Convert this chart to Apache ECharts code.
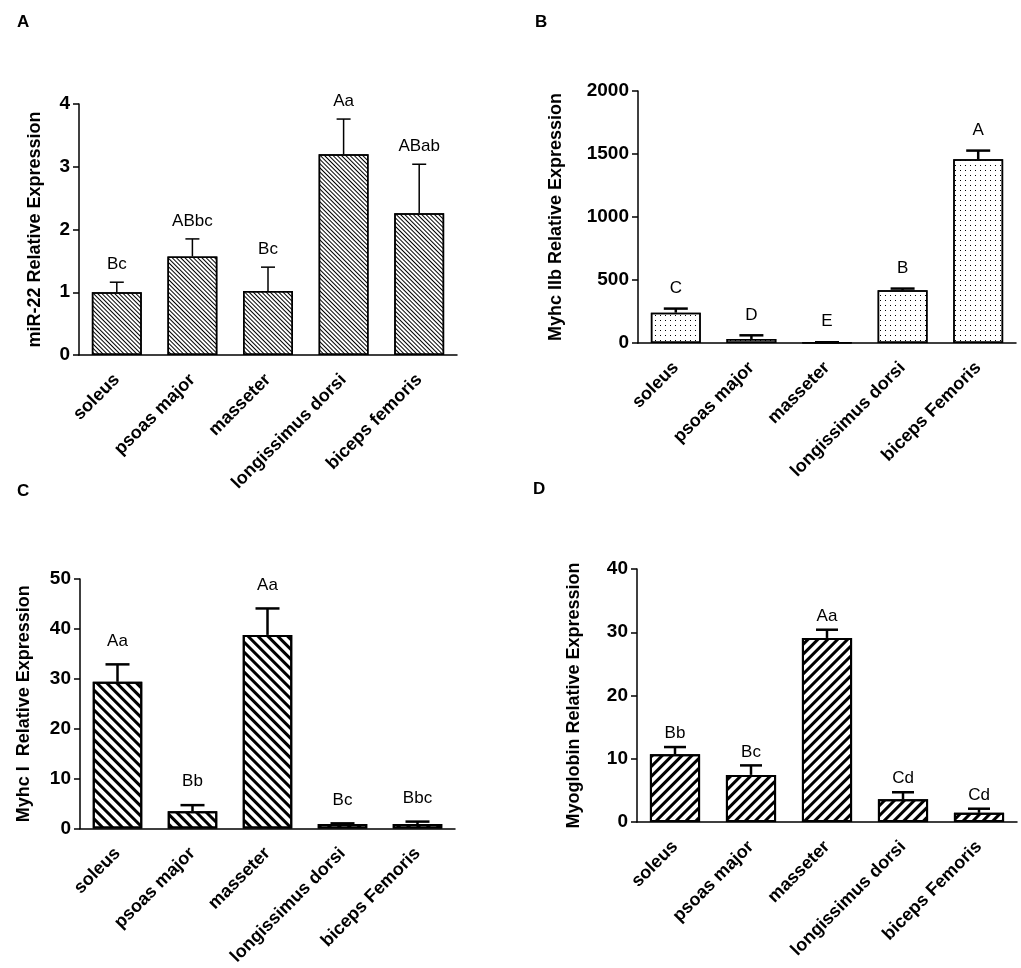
<!DOCTYPE html>
<html lang="en">
<head>
    <meta charset="UTF-8">
    <title>Muscle expression panels</title>
    <script src="https://cdn.jsdelivr.net/npm/echarts@6.0.0/dist/echarts.min.js"></script>
    <style>
        body { margin: 0; background: #fff; }
        #chart { width: 1021px; height: 968px; }
    </style>
</head>
<body>
    <div id="chart"></div>
    <script>
        // --- data ---
        const musclesA = ['soleus', 'psoas major', 'masseter', 'longissimus dorsi', 'biceps femoris'];
        const musclesBCD = ['soleus', 'psoas major', 'masseter', 'longissimus dorsi', 'biceps Femoris'];

        const mir22Mean = [1.0, 1.57, 1.02, 3.2, 2.26];
        const mir22Err = [0.16, 0.28, 0.38, 0.56, 0.78];
        const mir22Letters = ['Bc', 'ABbc', 'Bc', 'Aa', 'ABab'];

        const myhc2bMean = [241, 32, 4, 418, 1458];
        const myhc2bErr = [32, 29, 2, 14, 69];
        const myhc2bLetters = ['C', 'D', 'E', 'B', 'A'];

        const myhc1Mean = [29.4, 3.5, 38.8, 0.9, 0.9];
        const myhc1Err = [3.5, 1.2, 5.3, 0.15, 0.5];
        const myhc1Letters = ['Aa', 'Bb', 'Aa', 'Bc', 'Bbc'];

        const myoMean = [10.7, 7.45, 29.1, 3.6, 1.45];
        const myoErr = [1.15, 1.5, 1.3, 1.1, 0.65];
        const myoLetters = ['Bb', 'Bc', 'Aa', 'Cd', 'Cd'];

        const FONT = 'Arial, "Liberation Sans", Helvetica, sans-serif';

        // one entry per panel: layout + look
        const panels = [
            {
                cats: musclesA, mean: mir22Mean, err: mir22Err, letters: mir22Letters,
                yName: 'miR-22 Relative Expression', max: 4, interval: 1,
                grid: { left: 79, top: 104, width: 378, height: 251 }, nameGap: 35,
                labelGap: 9, capHalf: 7, errWidth: 1.5, borderWidth: 1.5,
                decal: { color: '#000', symbol: 'rect', symbolSize: 1, dashArrayX: [1, 0], dashArrayY: [1, 2], rotation: Math.PI / 4 }
            },
            {
                cats: musclesBCD, mean: myhc2bMean, err: myhc2bErr, letters: myhc2bLetters,
                yName: 'Myhc IIb Relative Expression', max: 2000, interval: 500,
                grid: { left: 638, top: 91, width: 378, height: 252 }, nameGap: 73,
                labelGap: 12, capHalf: 12, errWidth: 2.5, borderWidth: 1.5,
                decal: { color: '#000', symbol: 'rect', symbolSize: 1, dashArrayX: [1, 3.3], dashArrayY: [1, 4], rotation: 0 }
            },
            {
                cats: musclesBCD, mean: myhc1Mean, err: myhc1Err, letters: myhc1Letters,
                yName: 'Myhc I  Relative Expression', max: 50, interval: 10,
                grid: { left: 80, top: 579, width: 375, height: 250 }, nameGap: 47,
                labelGap: 15, capHalf: 12, errWidth: 2.5, borderWidth: 2,
                decal: { color: '#000', symbol: 'rect', symbolSize: 1, dashArrayX: [1, 0], dashArrayY: [3, 3.6], rotation: Math.PI / 4 }
            },
            {
                cats: musclesBCD, mean: myoMean, err: myoErr, letters: myoLetters,
                yName: 'Myoglobin Relative Expression', max: 40, interval: 10,
                grid: { left: 637, top: 569, width: 380, height: 253 }, nameGap: 54,
                labelGap: 5, capHalf: 11, errWidth: 2.5, borderWidth: 2,
                decal: { color: '#000', symbol: 'rect', symbolSize: 1, dashArrayX: [1, 0], dashArrayY: [3, 3.6], rotation: -Math.PI / 4 }
            }
        ];

        const chart = echarts.init(document.getElementById('chart'));

        const option = {
            animation: false,
            backgroundColor: '#fff',
            title: [
                { text: 'A', left: 12, top: 9 },
                { text: 'B', left: 530, top: 9 },
                { text: 'C', left: 12, top: 478 },
                { text: 'D', left: 528, top: 476 }
            ].map(t => Object.assign(t, {
                textStyle: { fontFamily: FONT, fontWeight: 'bold', fontSize: 17, color: '#000' }
            })),
            grid: [],
            xAxis: [],
            yAxis: [],
            series: []
        };

        panels.forEach((p, i) => {
            option.grid.push(p.grid);
            option.xAxis.push({
                type: 'category',
                gridIndex: i,
                data: p.cats,
                axisLine: { lineStyle: { color: '#000', width: 1.5 } },
                axisTick: { show: false },
                axisLabel: {
                    interval: 0, rotate: 45, margin: 22,
                    fontFamily: FONT, fontWeight: 'bold', fontSize: 18, color: '#000'
                }
            });
            option.yAxis.push({
                type: 'value',
                gridIndex: i,
                min: 0, max: p.max, interval: p.interval,
                name: p.yName,
                nameLocation: 'middle',
                nameGap: p.nameGap,
                nameTextStyle: { fontFamily: FONT, fontWeight: 'bold', fontSize: 18, color: '#000' },
                splitLine: { show: false },
                axisLine: { show: true, lineStyle: { color: '#000', width: 1.5 } },
                axisTick: { show: true, length: 6, lineStyle: { color: '#000', width: 1.5 } },
                axisLabel: {
                    margin: 9, fontFamily: FONT, fontWeight: 'bold', fontSize: 19, color: '#000',
                    formatter: v => String(v)
                }
            });
            option.series.push({
                type: 'bar',
                xAxisIndex: i, yAxisIndex: i,
                barCategoryGap: '34%',
                data: p.mean,
                itemStyle: {
                    color: '#fff',
                    borderColor: '#000',
                    borderWidth: p.borderWidth,
                    decal: p.decal
                },
                z: 2
            });
            // error bars + significance letters
            option.series.push({
                type: 'custom',
                xAxisIndex: i, yAxisIndex: i,
                data: p.mean.map((m, k) => [k, m, p.err[k]]),
                z: 5,
                renderItem: function (params, api) {
                    const k = api.value(0);
                    const m = api.value(1);
                    const e = api.value(2);
                    const base = api.coord([k, m]);
                    const top = api.coord([k, m + e]);
                    const lineStyle = { stroke: '#000', lineWidth: p.errWidth };
                    return {
                        type: 'group',
                        children: [
                            { type: 'line', shape: { x1: base[0], y1: base[1], x2: top[0], y2: top[1] }, style: lineStyle },
                            { type: 'line', shape: { x1: top[0] - p.capHalf, y1: top[1], x2: top[0] + p.capHalf, y2: top[1] }, style: lineStyle },
                            {
                                type: 'text',
                                x: top[0], y: top[1] - p.labelGap,
                                style: {
                                    text: p.letters[params.dataIndex],
                                    align: 'center', verticalAlign: 'bottom',
                                    fontFamily: FONT, fontSize: 17, fill: '#000'
                                }
                            }
                        ]
                    };
                }
            });
        });

        chart.setOption(option);
    </script>
</body>
</html>
